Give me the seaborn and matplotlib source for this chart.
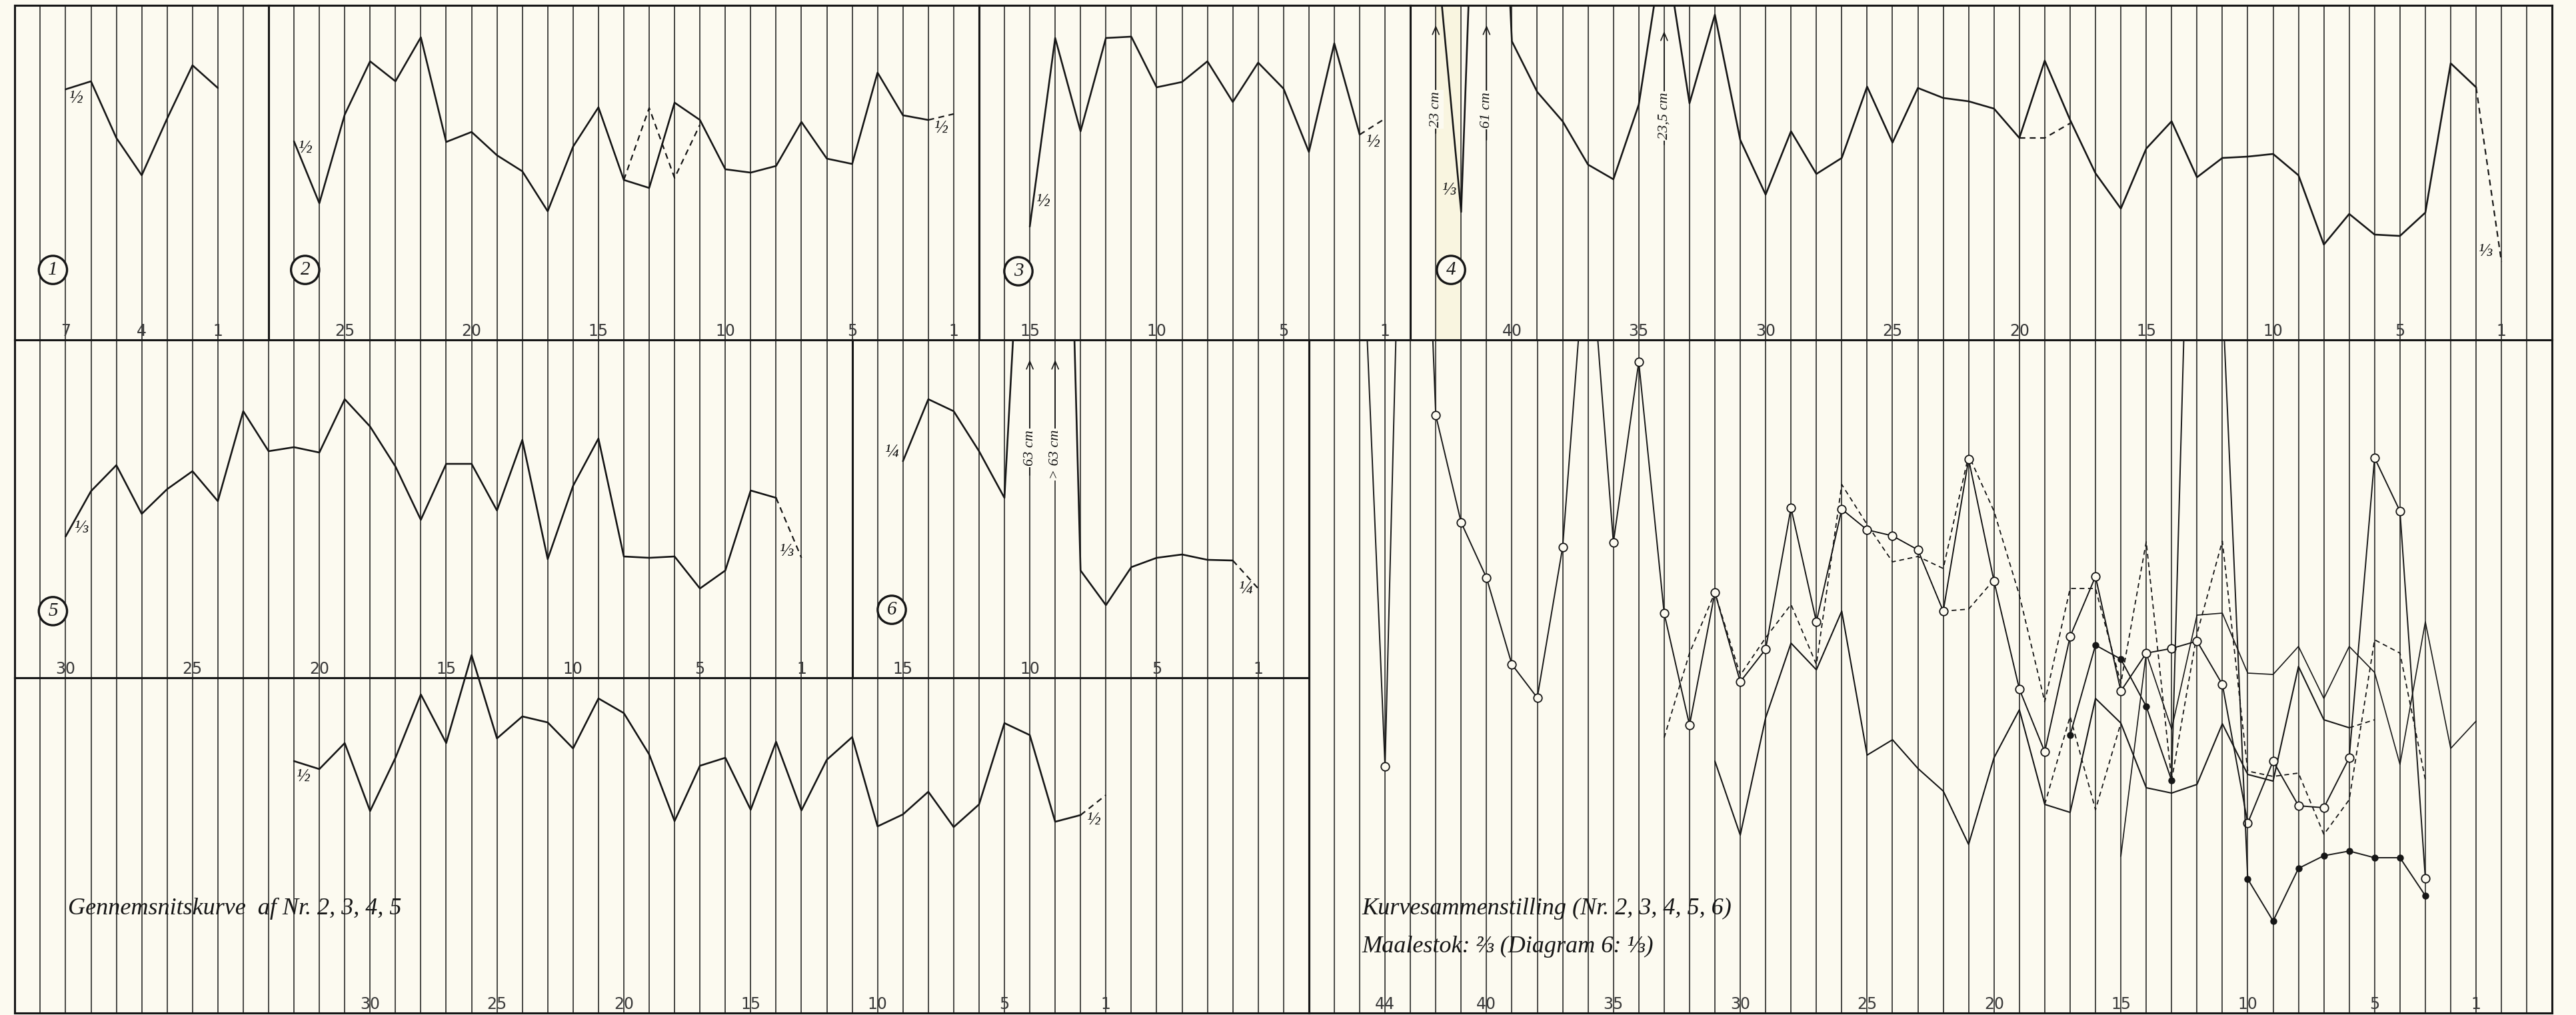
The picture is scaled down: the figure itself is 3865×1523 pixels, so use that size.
import numpy as np
import matplotlib.pyplot as plt
import seaborn as sns

# Heights, in tenths of a pixel of the full-size scan,
# measured up from the bottom rule of each strip.  Every curve runs from its
# highest sample number (left) down towards 1 (right); *_start is that number.

# strip 1-6, single curves
p1_start = 7
p1 = [37.6, 38.8, 30.3, 24.7, 33.2, 41.2, 37.8]

p2_start = 27
p2 = [29.8, 20.5, 33.8, 41.8, 38.8, 45.4, 29.7, 31.2, 27.7, 25.3, 19.3, 29.0, 34.9,
      24.0, 22.8, 35.6, 33.0, 25.6, 25.1, 26.1, 32.7, 27.2, 26.4, 40.1, 33.7, 33.0]
p2_tail = [33.0, 33.9]
p2_alt_start = 14
p2_alt = [24.0, 34.8, 24.3, 32.3]

p3_start = 15
p3 = [17.0, 45.3, 31.3, 45.3, 45.5, 37.9, 38.7, 41.8, 35.7, 41.6, 37.7, 28.2, 44.5, 30.8]
p3_tail = [30.8, 33.2]

p4_start = 43
p4 = [60.0, 19.2, 126.0, 44.8, 37.2, 32.8, 26.3, 24.1, 35.3, 60.0, 35.5, 48.8, 30.0, 21.8,
      31.3, 24.9, 27.3, 38.0, 29.6, 37.8, 36.3, 35.8, 34.7, 30.3, 41.9, 33.0, 25.0, 19.7,
      28.7, 32.8, 24.4, 27.3, 27.5, 27.9, 24.7, 14.3, 18.9, 15.8, 15.6, 19.1, 41.5, 37.9]
p4_tail = [37.9, 11.7]
p4_alt_start = 20
p4_alt = [30.3, 30.3, 32.5]

p5_start = 30
p5 = [21.2, 28.0, 31.9, 24.6, 28.3, 31.0, 26.5, 40.0, 34.0, 34.6, 33.8, 41.8, 37.7, 31.7, 23.7,
      32.1, 32.1, 25.1, 35.7, 17.8, 28.8, 35.9, 18.2, 18.0, 18.2, 13.4, 16.1, 28.1, 27.0]
p5_tail = [27.0, 18.0]

p6_start = 15
p6 = [32.5, 41.8, 40.0, 34.0, 27.0, 97.0, 160.0, 16.1, 10.9, 16.6, 18.0, 18.5, 17.7, 17.6]
p6_tail = [17.6, 13.4]

avg_start = 33
avg = [37.8, 36.6, 40.5, 30.3, 38.3, 47.8, 40.5, 53.7, 41.2, 44.5, 43.6, 39.7, 47.2, 45.0,
       38.8, 28.8, 37.1, 38.3, 30.5, 40.7, 30.4, 38.0, 41.4, 28.0, 29.8, 33.2, 27.9, 31.3,
       43.5, 41.7, 28.7, 29.7]
avg_tail = [29.7, 32.7]

# combined strip (Kurvesammenstilling)
c2_start = 31
c2 = [37.8, 26.7, 44.3, 55.5, 51.5, 60.3, 38.7, 41.0, 36.7, 33.3, 25.3, 38.3, 45.5, 31.3,
      30.1, 47.2, 43.5, 33.8, 33.0, 34.3, 43.4, 35.8, 34.8, 52.0, 44.0, 42.8]
c2_tail = [42.8, 44.0]
c2_alt_start = 18
c2_alt = [31.3, 44.5, 30.5, 43.5]

c3_start = 15
c3 = [23.5, 54.0, 42.6, 59.7, 60.0, 51.0, 50.8, 55.0, 47.2, 55.0, 51.1, 37.3, 58.7, 39.7, 43.8]

c4_start = 45
c4 = [128.4, 37.0, 187.0, 89.7, 73.6, 65.3, 52.3, 47.3, 69.9, 120.0, 70.6, 97.7, 60.0, 43.2,
      63.1, 49.7, 54.6, 75.8, 58.7, 75.6, 72.5, 71.6, 69.5, 60.3, 83.1, 64.8, 48.6, 39.2,
      56.5, 65.5, 48.3, 54.0, 54.7, 55.8, 49.3, 28.5, 37.8, 31.1, 30.8, 38.3, 83.3, 75.3, 20.2]
c4_alt_start = 22
c4_alt = [60.3, 60.6, 65.0]

c5_start = 33
c5 = [41.3, 54.0, 63.1, 50.7, 56.3, 61.3, 52.3, 79.3, 73.3, 67.7, 68.5, 66.7, 83.7, 75.3,
      62.7, 46.7, 63.7, 63.7, 49.5, 70.7, 34.9, 56.9, 70.8, 36.3, 35.5, 36.0, 26.8, 32.0,
      56.0, 54.0, 35.0]

c6_start = 17
c6 = [41.7, 55.2, 53.1, 46.0, 34.9, 173.0, 108.0, 20.1, 13.8, 21.7, 23.6, 24.3, 23.3, 23.3, 17.6]

# sample numbers written along the foot of each strip
ticks1 = [7, 4, 1]
ticks2 = [25, 20, 15, 10, 5, 1]
ticks3 = [15, 10, 5, 1]
ticks4 = [40, 35, 30, 25, 20, 15, 10, 5, 1]
ticks5 = [30, 25, 20, 15, 10, 5, 1]
ticks6 = [15, 10, 5, 1]
ticks_avg = [30, 25, 20, 15, 10, 5, 1]
ticks_comb = [44, 40, 35, 30, 25, 20, 15, 10, 5, 1]

INK = '#161616'
BG = '#fcfaf0'
SERIF = ['Liberation Serif', 'DejaVu Serif', 'DejaVu Sans']

sns.set_theme(style='white', rc={'axes.facecolor': BG, 'figure.facecolor': BG})

fig = plt.figure(figsize=(38.66, 15.23), dpi=100)
W, H = 3866, 1523
X0, DX = 22.3, 38.07          # left rule and column width of the ruling, px
ROWS = [8, 510, 1017, 1520]   # horizontal rules, px


def panel(k0, k1, top, bot, n0):
    ax = fig.add_axes([(X0 + k0 * DX) / W, 1 - bot / H, (k1 - k0) * DX / W, (bot - top) / H])
    ax.set_facecolor(BG)
    ax.set_xticks(np.arange(n0 - 1, n0 - (k1 - k0), -1))
    ax.set_yticks([])
    ax.tick_params(length=0, labelbottom=False, labelleft=False)
    ax.grid(axis='x', color=INK, lw=1.1)
    for s in ax.spines.values():
        s.set_visible(True)
        s.set_linewidth(2.2)
        s.set_color(INK)
    ax.set_xlim(n0, n0 - (k1 - k0))
    ax.set_ylim(0, (bot - top) / 10)
    ax.set(xlabel='', ylabel='')
    return ax


def curve(ax, start, vals, dashed=False, lw=1.9, **kw):
    x = list(range(start, start - len(vals), -1))
    ls = (0, (4, 3)) if dashed else '-'
    sns.lineplot(x=x, y=vals, ax=ax, sort=False, estimator=None, errorbar=None,
                 color=INK, lw=lw, linestyle=ls, **kw)


def numbers(ax, labels):
    for n in labels:
        ax.annotate(str(n), xy=(n, 0), xycoords=('data', 'axes fraction'), xytext=(0, 13),
                    textcoords='offset pixels', ha='center', va='center',
                    fontsize=17, color='#3a3a3a')


def frac(ax, n, y, txt):
    ax.text(n, y, txt, fontsize=20, style='italic', ha='center', va='center',
            family=SERIF, color=INK)


def badge(ax, n, y, txt):
    ax.text(n, y, txt, fontsize=21, style='italic', ha='center', va='center', color=INK,
            family=SERIF, zorder=5,
            bbox=dict(boxstyle='circle,pad=0.28', fc=BG, ec=INK, lw=2.4))


def cm_arrow(ax, n, lo, hi, mid, txt):
    ax.annotate('', xy=(n, hi), xytext=(n, lo),
                arrowprops=dict(arrowstyle='->,head_length=0.7,head_width=0.3', color=INK,
                                lw=1.2, shrinkA=0, shrinkB=0))
    ax.text(n, mid, txt, rotation=90, ha='center', va='center', fontsize=16,
            style='italic', family=SERIF, color=INK, zorder=4,
            bbox=dict(fc=BG, ec='none', pad=1.5))


ax1 = panel(0, 10, ROWS[0], ROWS[1], 9)
ax2 = panel(10, 38, ROWS[0], ROWS[1], 28)
ax3 = panel(38, 55, ROWS[0], ROWS[1], 17)
ax4 = panel(55, 100, ROWS[0], ROWS[1], 44)
ax5 = panel(0, 33, ROWS[1], ROWS[2], 32)
ax6 = panel(33, 51, ROWS[1], ROWS[2], 17)
axa = panel(0, 51, ROWS[2], ROWS[3], 44)
axc = panel(51, 100, ROWS[1], ROWS[3], 47)

# faint yellow band of the scan
ax4.axvspan(43, 42, color='#f6eec4', alpha=0.35, lw=0, zorder=0)

# single curves
curve(ax1, p1_start, p1)
curve(ax2, p2_start, p2)
curve(ax2, 2, p2_tail, dashed=True, lw=1.6)
curve(ax2, p2_alt_start, p2_alt, dashed=True, lw=1.6)
curve(ax3, p3_start, p3)
curve(ax3, 2, p3_tail, dashed=True, lw=1.6)
curve(ax4, p4_start, p4)
curve(ax4, 2, p4_tail, dashed=True, lw=1.6)
curve(ax4, p4_alt_start, p4_alt, dashed=True, lw=1.6)
curve(ax5, p5_start, p5)
curve(ax5, 2, p5_tail, dashed=True, lw=1.6)
curve(ax6, p6_start, p6)
curve(ax6, 2, p6_tail, dashed=True, lw=1.6)
curve(axa, avg_start, avg, clip_on=False)
curve(axa, 2, avg_tail, dashed=True, lw=1.6)

# combined strip
curve(axc, c2_start, c2, lw=1.5)
curve(axc, 6, c2_tail, dashed=True, lw=1.3)
curve(axc, c2_alt_start, c2_alt, dashed=True, lw=1.3)
curve(axc, c3_start, c3, lw=1.2)
curve(axc, c5_start, c5, dashed=True, lw=1.3)
curve(axc, c4_alt_start, c4_alt, dashed=True, lw=1.3)
curve(axc, c4_start, c4, lw=1.4, marker='o', markersize=9, markerfacecolor=BG,
      markeredgecolor=INK, markeredgewidth=1.3)
curve(axc, c6_start, c6, lw=1.4, marker='o', markersize=6.5, markerfacecolor=INK,
      markeredgecolor=INK, markeredgewidth=1.0)

for ax, t in [(ax1, ticks1), (ax2, ticks2), (ax3, ticks3), (ax4, ticks4), (ax5, ticks5),
              (ax6, ticks6), (axa, ticks_avg), (axc, ticks_comb)]:
    numbers(ax, t)

# scale marks at the curve ends
frac(ax1, 6.6, 36.3, '½')
frac(ax2, 26.56, 28.8, '½')
frac(ax2, 1.5, 31.8, '½')
frac(ax3, 14.5, 20.8, '½')
frac(ax3, 1.5, 29.7, '½')
frac(ax4, 42.5, 22.5, '⅓')
frac(ax4, 1.64, 13.3, '⅓')
frac(ax5, 29.4, 22.4, '⅓')
frac(ax5, 1.6, 18.9, '⅓')
frac(ax6, 15.45, 33.9, '¼')
frac(ax6, 1.5, 13.4, '¼')
frac(axa, 32.66, 35.5, '½')
frac(axa, 1.5, 29.0, '½')

badge(ax1, 7.5, 10.5, '1')
badge(ax2, 26.56, 10.5, '2')
badge(ax3, 15.45, 10.3, '3')
badge(ax4, 42.4, 10.5, '4')
badge(ax5, 30.5, 10.0, '5')
badge(ax6, 15.44, 10.2, '6')

cm_arrow(ax4, 43, 31.0, 47.2, 34.6, '23 cm')
cm_arrow(ax4, 41, 30.0, 47.2, 34.5, '61 cm')
cm_arrow(ax4, 34, 29.3, 46.3, 33.6, '23,5 cm')
cm_arrow(ax6, 10, 30.4, 47.7, 34.5, '63 cm')
cm_arrow(ax6, 9, 30.4, 47.7, 33.5, '> 63 cm')

axa.text(41.9, 15.7, 'Gennemsnitskurve  af Nr. 2, 3, 4, 5', fontsize=26, style='italic',
         family=SERIF, ha='left', va='center', color=INK)
axc.text(44.9, 15.7, 'Kurvesammenstilling (Nr. 2, 3, 4, 5, 6)', fontsize=26, style='italic',
         family=SERIF, ha='left', va='center', color=INK)
axc.text(44.9, 10.0, 'Maalestok: ⅔ (Diagram 6: ⅓)', fontsize=26, style='italic',
         family=SERIF, ha='left', va='center', color=INK)

fig.savefig('out.png', dpi=100, facecolor=BG)
